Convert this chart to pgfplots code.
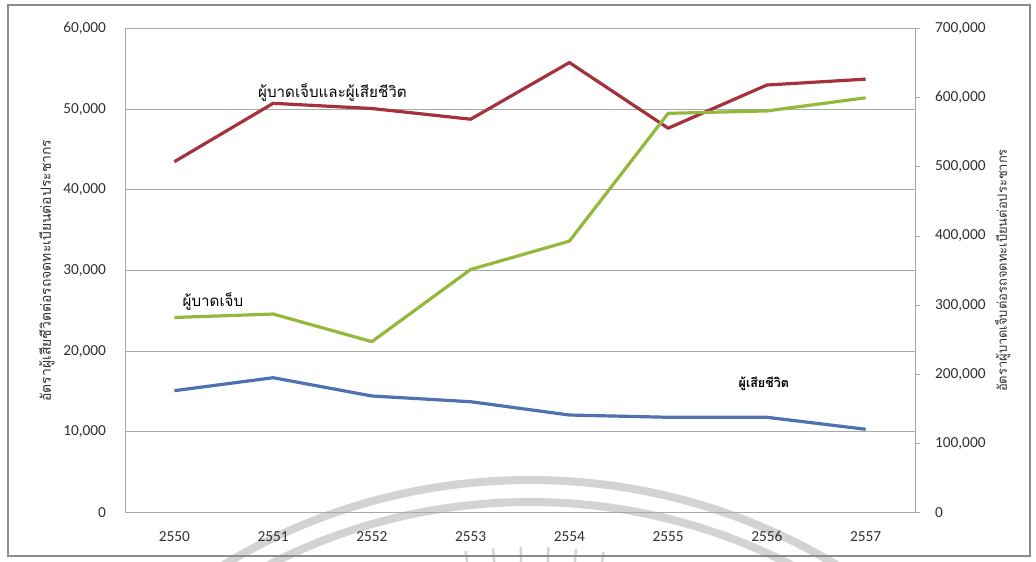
\documentclass[border=0pt]{standalone}
\usepackage{fontspec}
\setmainfont{Carlito}
\newfontfamily\thaifont[Script=Thai]{Loma}
\usepackage{pgfplots}
\usepackage{pgfplotstable}
\pgfplotsset{compat=1.18}

\definecolor{injdead}{HTML}{A3323C}
\definecolor{inj}{HTML}{93B83C}
\definecolor{dead}{HTML}{4E72B0}
\definecolor{gridgray}{HTML}{A8A8A8}
\definecolor{framegray}{HTML}{8C8C8C}
\definecolor{seal}{HTML}{D3D3D3}
\definecolor{ticktext}{HTML}{303030}

% deaths per registered vehicle per population (left axis)
\pgfplotstableread{
x deaths
0 15090
1 16700
2 14430
3 13720
4 12070
5 11790
6 11790
7 10300
}\deathtable

% injured, and injured + deaths (right axis)
\pgfplotstableread{
x injdead injured
0 507500 282000
1 592000 287000
2 584500 247000
3 569000 351500
4 651000 392500
5 556000 577500
6 618500 581000
7 627000 600000
}\injtable

\begin{document}
\begin{tikzpicture}[x=1bp,y=1bp]
\useasboundingbox (0,0) rectangle (518,280.5);

% faint seal arcs in the background
\begin{scope}
\clip (0,0) rectangle (518,280.5);
\draw[line width=4bp, color=seal] (265,-257) circle (297.5);
\draw[line width=4bp, color=seal] (265,-257) circle (286.5);
\foreach \a in {82,85,88,91,94,97}
  \draw[line width=1.2bp, color=seal] (265,-257) ++(\a:249) -- ++(\a:15);
\end{scope}

% outer frame
\draw[framegray, line width=0.6bp] (4,2.5) rectangle (515,278);

\pgfplotsset{
  common/.style={
    scale only axis,
    width=395bp, height=241.8bp,
    at={(62.5bp,24.35bp)}, anchor=south west,
    xmin=-0.5, xmax=7.5,
    axis line style={gridgray, line width=0.5bp},
    scaled y ticks=false,
    /pgf/number format/fixed,
    /pgf/number format/precision=0,
    /pgf/number format/1000 sep={,},
    /pgf/number format/assume math mode=true,
    ticklabel style={font=\fontsize{7.7}{9}\selectfont, text=ticktext},
    clip=false,
  },
}

\begin{axis}[
  common,
  ymin=0, ymax=60000,
  ytick={0,10000,...,60000},
  ymajorgrids,
  grid style={gridgray, line width=0.5bp},
  xtick={0,...,7},
  xticklabels={2550,2551,2552,2553,2554,2555,2556,2557},
  major tick length=0pt,
  yticklabel style={xshift=-6bp},
  xticklabel style={yshift=-6bp},
  ylabel={\thaifont อัตราผู้เสียชีวิตต่อรถจดทะเบียนต่อประชากร},
  ylabel style={at={(axis description cs:-0.099,0.5)}, anchor=center,
                font=\fontsize{7}{8}\selectfont, text=ticktext},
]
\addplot[dead, line width=1.6bp, line join=round] table[x=x, y=deaths] {\deathtable};

\node[anchor=west, font=\thaifont\fontsize{7.6}{9}\selectfont, inner sep=0pt]
  at (axis cs:0.845,52100) {ผู้บาดเจ็บและผู้เสียชีวิต};
\node[anchor=west, font=\thaifont\fontsize{7.6}{9}\selectfont, inner sep=0pt]
  at (axis cs:0.08,26100) {ผู้บาดเจ็บ};
\node[anchor=west, font=\thaifont\bfseries\fontsize{6.3}{7}\selectfont, inner sep=0pt]
  at (axis cs:5.71,15900) {ผู้เสียชีวิต};
\end{axis}

\begin{axis}[
  common,
  ymin=0, ymax=700000,
  ytick={0,100000,...,700000},
  axis y line*=right,
  axis x line=none,
  tick align=outside,
  major tick length=2.5bp,
  tick style={gridgray, line width=0.4bp},
  yticklabel style={xshift=4bp},
  ylabel={\thaifont อัตราผู้บาดเจ็บต่อรถจดทะเบียนต่อประชากร},
  ylabel style={at={(axis description cs:1.111,0.5)}, anchor=center,
                font=\fontsize{6.5}{7.5}\selectfont, text=ticktext},
]
\addplot[injdead, line width=1.6bp, line join=round] table[x=x, y=injdead] {\injtable};
\addplot[inj, line width=1.6bp, line join=round] table[x=x, y=injured] {\injtable};
\end{axis}
\end{tikzpicture}
\end{document}
